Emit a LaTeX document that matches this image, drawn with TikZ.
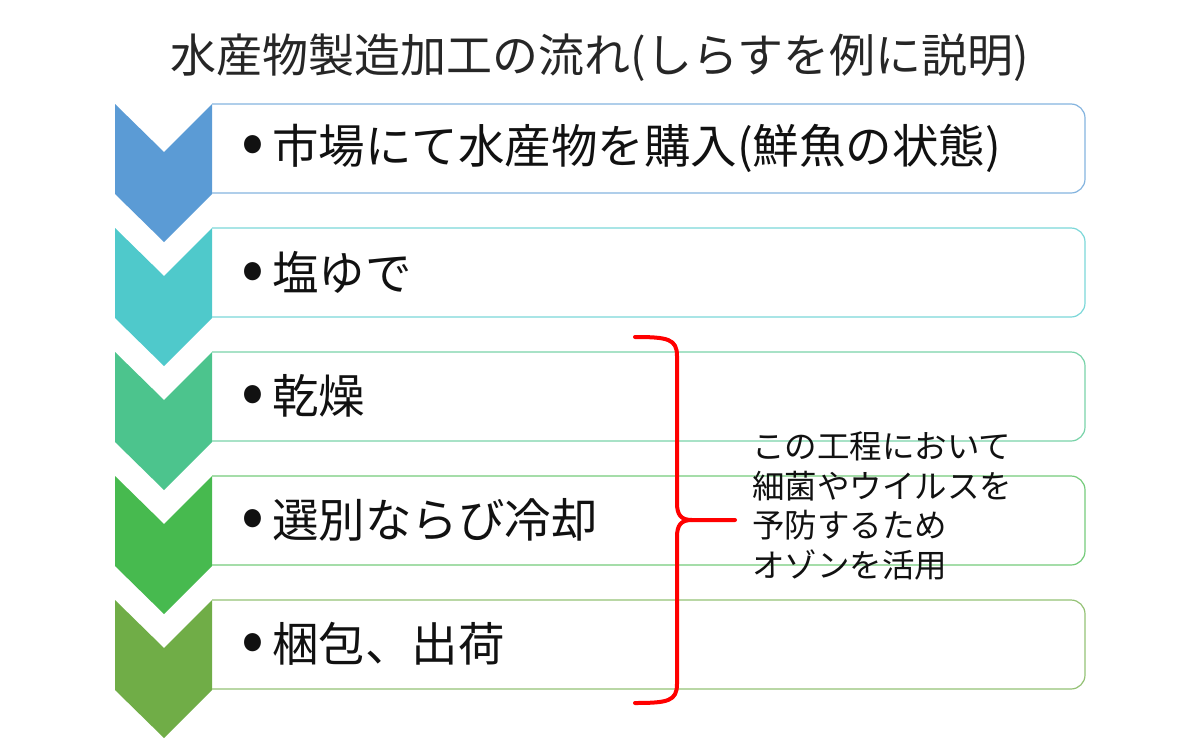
\documentclass[tikz,border=0pt]{standalone}
\usepackage{fontspec}
\setmainfont{Noto Sans CJK JP}
\definecolor{c1}{HTML}{5B9BD5}
\definecolor{c2}{HTML}{4FC9CB}
\definecolor{c3}{HTML}{4CC48D}
\definecolor{c4}{HTML}{47BA4F}
\definecolor{c5}{HTML}{70AD47}
\definecolor{txt}{HTML}{111111}
\definecolor{ttl}{HTML}{262626}
\tikzset{
  chev/.style={fill=#1, draw=none},
  boxline/.style={draw=#1!75!white, line width=1.2pt, rounded corners=14pt},
  item/.style={anchor=west, inner sep=0pt, text=txt, font=\fontsize{46.5}{54}\selectfont},
  note/.style={anchor=west, inner sep=0pt, align=left, text=txt, font=\fontsize{32.5}{39.5}\selectfont},
  bracestyle/.style={draw=red, line width=4pt, line cap=round, line join=round},
}
\newcommand{\rowitem}[4]{% top, color, name, text
  \fill[chev=#2] (115,#1) -- (164,#1+48) -- (212,#1) -- (212,#1+90) -- (164,#1+138) -- (115,#1+90) -- cycle;
  \draw[boxline=#2] (212,#1) -- (1085,#1) -- (1085,#1+89) -- (212,#1+89);
  \node[item] (#3) at (241,#1+44) {\makebox[31pt][l]{\raisebox{-1pt}{\scalebox{1.45}{•}}}#4};
}
\begin{document}
\begin{tikzpicture}[x=1pt,y=-1pt]
\useasboundingbox (0,0) rectangle (1200,750);
\node[text=ttl, font=\fontsize{46}{52}\selectfont, inner sep=0pt] (title) at (600,58) {水産物製造加工の流れ(しらすを例に説明)};
\rowitem{104}{c1}{i1}{市場にて水産物を購入(鮮魚の状態)}
\rowitem{228}{c2}{i2}{塩ゆで}
\rowitem{352}{c3}{i3}{乾燥}
\rowitem{476}{c4}{i4}{選別ならび冷却}
\rowitem{600}{c5}{i5}{梱包、出荷}
\draw[bracestyle] (635,337) .. controls (668,337) and (677,339) .. (677,356) -- (677,503)
  .. controls (677,515) and (681,520) .. (692,520) -- (735,520);
\draw[bracestyle] (692,520) .. controls (681,520) and (677,525) .. (677,537) -- (677,684)
  .. controls (677,701) and (668,703) .. (635,703);
\node[note] (note) at (752,506) {この工程において\\細菌やウイルスを\\予防するため\\オゾンを活用};
\end{tikzpicture}
\end{document}
